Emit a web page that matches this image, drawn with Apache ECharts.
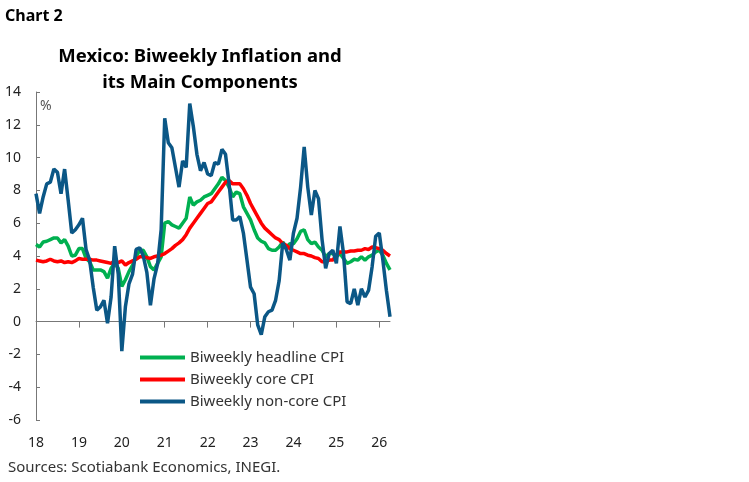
<!DOCTYPE html>
<html>
<head>
<meta charset="utf-8">
<script src="https://cdn.jsdelivr.net/npm/echarts@6/dist/echarts.min.js"></script>
<style>
html,body{margin:0;padding:0;background:#fff;}
#c{width:749px;height:482px;}
</style>
</head>
<body>
<div id="c"></div>
<script>
// Months Jan 2018 .. Apr 2026 (100 points)
var months = [];
for (var y = 2018; y <= 2026; y++) {
  for (var m = 1; m <= 12; m++) {
    if (y === 2026 && m > 4) break;
    months.push(y + '-' + (m < 10 ? '0' + m : m));
  }
}
var yTicks = [-6, -4, -2, 0, 2, 4, 6, 8, 10, 12, 14];

var headline = [
4.7,4.55,4.85,4.9,5.0,5.1,5.1,4.8,5.0,4.6,4.0,4.05,
4.45,4.45,3.85,3.65,3.15,3.15,3.15,3.05,2.65,3.25,3.55,3.25,
2.15,2.55,3.05,3.45,3.95,4.35,4.35,3.95,3.35,3.15,3.55,3.95,
6.0,6.1,5.9,5.8,5.7,6.0,6.3,7.6,7.1,7.3,7.4,7.6,
7.7,7.8,8.1,8.4,8.8,8.6,8.2,7.6,7.9,7.8,7.0,6.6,
6.2,5.6,5.1,4.9,4.8,4.45,4.35,4.35,4.55,4.85,4.55,4.75,
4.75,5.05,5.5,5.6,5.0,4.75,4.85,4.55,4.35,3.95,4.15,4.15,
3.95,4.15,3.85,3.55,3.65,3.8,3.75,3.95,3.75,3.95,4.05,4.25,
4.35,4.05,3.55,3.15
];
var core = [
3.75,3.7,3.65,3.7,3.8,3.7,3.65,3.7,3.6,3.65,3.6,3.7,
3.85,3.8,3.8,3.8,3.75,3.75,3.7,3.65,3.6,3.55,3.7,3.6,
3.7,3.45,3.6,3.7,3.8,3.95,3.95,3.9,3.85,3.95,4.0,4.05,
4.15,4.3,4.45,4.65,4.8,5.0,5.3,5.7,6.0,6.3,6.6,6.9,
7.2,7.3,7.6,7.9,8.2,8.5,8.6,8.4,8.4,8.4,8.1,7.7,
7.2,6.8,6.4,6.0,5.7,5.5,5.3,5.1,5.0,4.75,4.65,4.45,
4.35,4.25,4.15,4.15,4.05,4.0,3.9,3.85,3.65,3.65,3.75,3.75,
4.05,4.25,4.25,4.25,4.3,4.3,4.35,4.35,4.45,4.4,4.55,4.5,
4.45,4.35,4.15,4.0
];
var noncore = [
7.8,6.6,7.6,8.4,8.5,9.3,9.1,7.8,9.3,7.4,5.4,5.6,
5.9,6.3,4.4,3.75,2.1,0.7,0.9,1.3,-0.1,1.5,4.6,2.9,
-1.8,0.9,2.3,2.9,4.4,4.5,4.0,3.0,1.0,2.6,3.5,5.6,
12.4,10.9,10.6,9.4,8.2,9.8,9.4,13.3,11.9,10.2,9.2,9.7,
9.0,8.9,9.7,9.6,10.5,10.2,8.4,6.2,6.2,6.4,5.4,3.75,
2.1,1.7,-0.2,-0.8,0.3,0.6,0.7,1.3,2.5,4.8,4.4,3.75,
5.4,6.3,8.2,10.65,8.2,6.5,8.0,7.5,5.0,3.25,4.15,4.35,
3.55,5.8,4.15,1.2,1.1,2.0,1.0,2.0,1.5,1.9,3.35,5.2,
5.4,3.75,1.9,0.3
];

var FONT = '"Noto Sans", "Open Sans", sans-serif';
var chart = echarts.init(document.getElementById('c'), null, {renderer: 'canvas'});
chart.setOption({
  backgroundColor: '#fff',
  animation: false,
  textStyle: {fontFamily: FONT},
  title: [
    {text: 'Chart 2', left: 5, top: 8, padding: 0,
     textStyle: {fontSize: 16, fontWeight: 'bold', color: '#000', fontFamily: FONT}},
    {text: 'Mexico: Biweekly Inflation and\nits Main Components', left: 200, top: 44, padding: 0, textAlign: 'center',
     textStyle: {fontSize: 18.5, fontWeight: 'bold', color: '#000', lineHeight: 26, fontFamily: FONT}},
    {text: 'Sources: Scotiabank Economics, INEGI.', left: 8, top: 460, padding: 0,
     textStyle: {fontSize: 15, fontWeight: 'normal', color: '#333', fontFamily: FONT}},
    {text: '%', left: 40, top: 99, padding: 0,
     textStyle: {fontSize: 14, fontWeight: 'normal', color: '#555', fontFamily: FONT}}
  ],
  legend: {
    orient: 'vertical', left: 140, top: 350, itemGap: 7, padding: 0,
    icon: 'rect', itemWidth: 45, itemHeight: 4,
    textStyle: {fontSize: 15, color: '#333', fontFamily: FONT},
    data: ['Biweekly headline CPI', 'Biweekly core CPI', 'Biweekly non-core CPI']
  },
  grid: {left: 36, right: 359, top: 92, bottom: 62, containLabel: false, outerBoundsMode: 'none'},
  xAxis: {
    type: 'category', data: months, boundaryGap: false,
    axisLine: {onZero: true, lineStyle: {color: '#777', width: 1}},
    axisTick: {interval: 11, length: 6, lineStyle: {color: '#777'}},
    axisLabel: {interval: 11, margin: 16, fontSize: 14, color: '#222', fontFamily: FONT,
      formatter: function (v) { return v.substr(2, 2); }},
    splitLine: {show: false}
  },
  yAxis: {
    type: 'value', min: yTicks[0], max: yTicks[yTicks.length - 1], interval: 2,
    axisLine: {show: true, lineStyle: {color: '#777', width: 1}},
    axisTick: {show: true, inside: true, length: 4, lineStyle: {color: '#777'}},
    axisLabel: {fontSize: 14, color: '#222', margin: 15, fontFamily: FONT},
    splitLine: {show: false}
  },
  series: [
    {name: 'Biweekly headline CPI', type: 'line', data: headline, showSymbol: false,
     lineStyle: {color: '#00b050', width: 3.5}, itemStyle: {color: '#00b050'}, z: 3},
    {name: 'Biweekly core CPI', type: 'line', data: core, showSymbol: false,
     lineStyle: {color: '#ff0000', width: 3.5}, itemStyle: {color: '#ff0000'}, z: 4},
    {name: 'Biweekly non-core CPI', type: 'line', data: noncore, showSymbol: false,
     lineStyle: {color: '#0b5786', width: 3.5}, itemStyle: {color: '#0b5786'}, z: 5}
  ]
});
</script>
</body>
</html>
